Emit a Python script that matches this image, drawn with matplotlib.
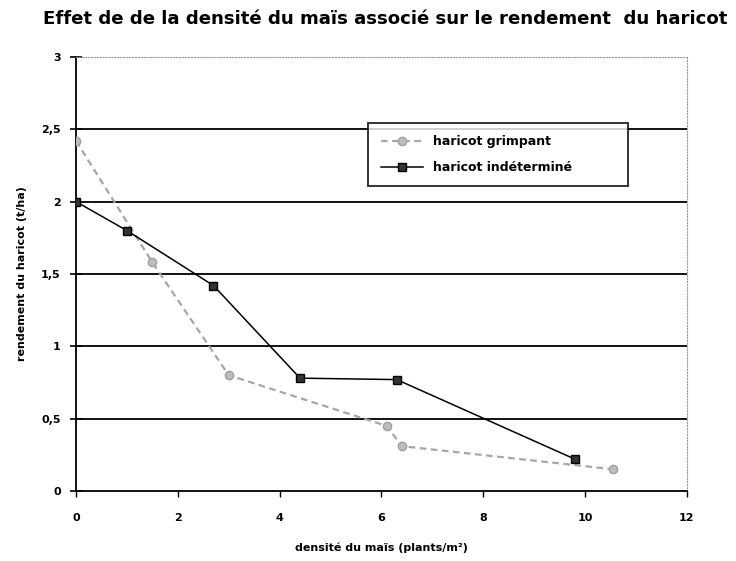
import matplotlib.pyplot as plt
from matplotlib.ticker import FuncFormatter

# rendement du haricot selon la densité du maïs
x_grimpant = [0, 1.5, 3.0, 6.1, 6.4, 10.55]
y_grimpant = [2.42, 1.58, 0.80, 0.45, 0.31, 0.15]

x_indet = [0, 1.0, 2.7, 4.4, 6.3, 9.8]
y_indet = [2.0, 1.8, 1.42, 0.78, 0.77, 0.22]

fig = plt.figure(figsize=(7.36, 5.61), dpi=100)
ax = fig.add_axes([0.1033, 0.1248, 0.83, 0.7736])

for yv in [0.5, 1.0, 1.5, 2.0, 2.5]:
    ax.axhline(yv, color="black", lw=1.3, zorder=1)

ax.plot(x_grimpant, y_grimpant, color="#a6a6a6", ls=(0, (3, 2)), lw=1.6,
        marker="o", ms=6, mfc="#bdbdbd", mec="#a0a0a0", label="haricot grimpant", zorder=3)
ax.plot(x_indet, y_indet, color="black", lw=1.1,
        marker="s", ms=5.5, mfc="#333333", mec="black", label="haricot indéterminé", zorder=4)

ax.set_xlim(0, 12)
ax.set_ylim(0, 3)
ax.set_xticks(range(0, 13, 2))
ax.set_yticks([0, 0.5, 1, 1.5, 2, 2.5, 3])
ax.yaxis.set_major_formatter(FuncFormatter(lambda v, p: f"{v:g}".replace(".", ",")))

for s in ["top", "right"]:
    ax.spines[s].set_color("#999999")
    ax.spines[s].set_linestyle(":")
for s in ["left", "bottom"]:
    ax.spines[s].set_color("black")
    ax.spines[s].set_linewidth(1.3)

ax.tick_params(axis="y", direction="inout", length=8, width=1.2, labelsize=8, pad=7)
ax.tick_params(axis="x", direction="out", length=4, width=1, labelsize=8, pad=12)
for lab in ax.get_xticklabels() + ax.get_yticklabels():
    lab.set_fontweight("bold")

ax.set_xlabel("densité du maïs (plants/m²)", fontsize=8, fontweight="bold", labelpad=14)
ax.set_ylabel("rendement du haricot (t/ha)", fontsize=8, fontweight="bold", labelpad=10)
fig.text(0.524, 0.967, "Effet de de la densité du maïs associé sur le rendement  du haricot",
         ha="center", va="center", fontsize=13.1, fontweight="bold")

leg = ax.legend(loc="upper left", bbox_to_anchor=(0.478, 0.698, 0.425, 0.15), mode="expand",
                borderaxespad=0, frameon=True, fancybox=False, borderpad=1.0, labelspacing=1.0,
                handlelength=3.4, prop={"weight": "bold", "size": 9})
leg.get_frame().set_edgecolor("black")
leg.get_frame().set_linewidth(1.4)

fig.savefig("out.png", dpi=100)
